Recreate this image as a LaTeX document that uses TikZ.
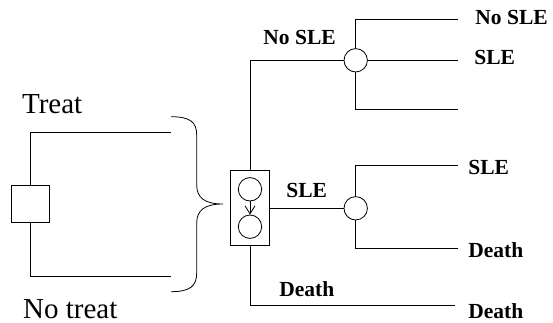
\documentclass[tikz,border=0pt]{standalone}
\usepackage{fontspec}
\setmainfont{Liberation Serif}
\usetikzlibrary{arrows.meta}
\begin{document}
\begin{tikzpicture}[x=1pt,y=-1pt,line width=0.8pt,
  lab/.style={font=\fontsize{21.5}{21.5}\selectfont\bfseries,anchor=base west,inner sep=0pt},
  big/.style={font=\fontsize{29}{29}\selectfont,anchor=base west,inner sep=0pt},
  chance/.style={draw,circle,minimum size=23.4pt,inner sep=0pt,fill=white},
  decbox/.style={draw,rectangle,minimum width=37.6pt,minimum height=37.6pt,inner sep=0pt},
  line/.style={draw}]
\useasboundingbox (0,0) rectangle (553,323);
% decision square
\node[decbox] (dec) at (30.5,204) {};
\coordinate (tT) at (171,132.3);
\coordinate (tN) at (171,276);
\draw (dec.north) |- (tT);
\draw (dec.south) |- (tN);
% brace
\draw (171,116.7) .. controls (190,116.7) and (196.7,122) .. (196.7,135) -- (196.7,185)
  .. controls (196.7,198) and (205,204) .. (223,204)
  .. controls (205,204) and (196.7,210) .. (196.7,223) -- (196.7,273)
  .. controls (196.7,286) and (190,291.7) .. (171,291.7);
\node[big] (treat) at (21.7,113.3) {Treat};
\node[big] (notreat) at (22.7,318.3) {No treat};
% Markov box
\node[draw,rectangle,minimum width=38.3pt,minimum height=75.7pt,inner sep=0pt] (mbox) at (250,207.9) {};
\node[chance] (s1) at (250,189.3) {};
\node[chance] (s2) at (250,226.7) {};
\draw[-{Straight Barb[length=8pt,width=10pt]}] (s1.south) -- (s2.north);
% chance nodes
\node[chance] (c1) at (355.7,60.3) {};
\node[chance] (c2) at (355.7,208.3) {};
\draw (mbox.north) |- (c1.west);
\draw (mbox.east |- c2.west) -- (c2.west);
\coordinate (dend) at (455,305.7);
\draw (mbox.south) |- (dend);
% c1 branches
\coordinate (e11) at (458.3,19);
\coordinate (e12) at (458.3,60.3);
\coordinate (e13) at (458.3,109);
\draw (c1.north) |- (e11);
\draw (c1.east) -- (e12);
\draw (c1.south) |- (e13);
% c2 branches
\coordinate (e21) at (458.3,165);
\coordinate (e22) at (458.3,248.7);
\draw (c2.north) |- (e21);
\draw (c2.south) |- (e22);
% labels
\node[lab] (l1) at (263,45) {No SLE};
\node[lab] (l2) at (286,197.5) {SLE};
\node[lab] (l3) at (279,296) {Death};
\node[lab] (r1) at (475,25) {No SLE};
\node[lab] (r2) at (474,65) {SLE};
\node[lab] (r3) at (468,174) {SLE};
\node[lab] (r4) at (468,257) {Death};
\node[lab] (r5) at (468,318) {Death};
\end{tikzpicture}
\end{document}
